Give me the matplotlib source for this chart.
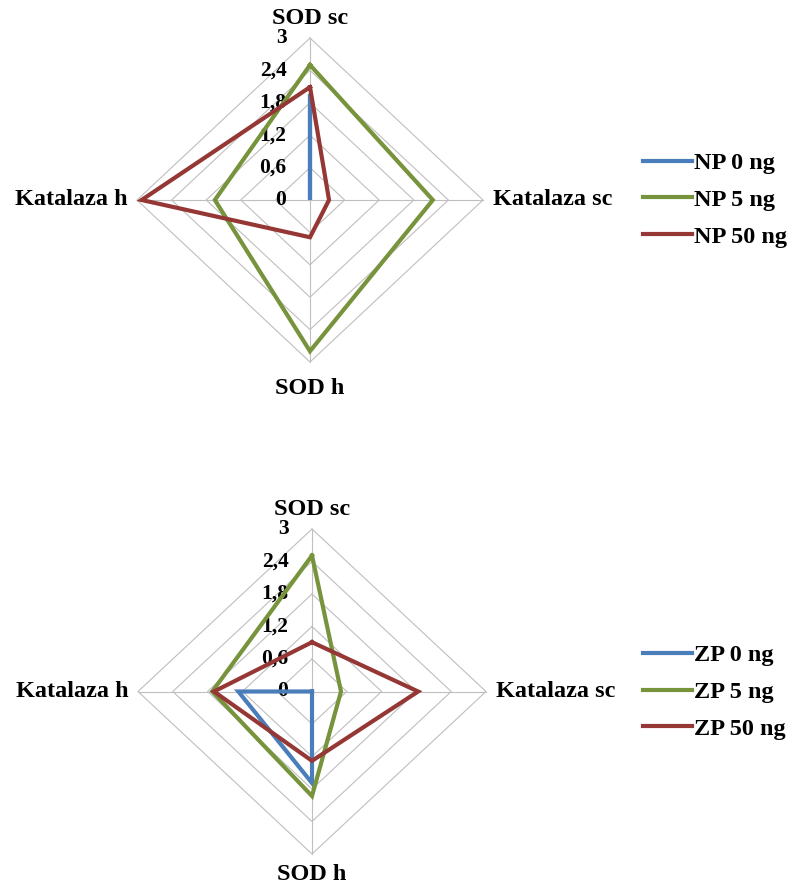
import numpy as np
import matplotlib
matplotlib.use('Agg')
import matplotlib.pyplot as plt

# data
categories = ['SOD sc', 'Katalaza sc', 'SOD h', 'Katalaza h']
ticks = [0, 0.6, 1.2, 1.8, 2.4, 3]
tick_labels = ['0', '0,6', '1,2', '1,8', '2,4', '3']

np_names = ['NP 0 ng', 'NP 5 ng', 'NP 50 ng']
np_0 = [1.92, 0, 0, 0]
np_5 = [2.50, 2.13, 2.80, 1.65]
np_50 = [2.09, 0.33, 0.69, 2.92]

zp_names = ['ZP 0 ng', 'ZP 5 ng', 'ZP 50 ng']
zp_0 = [0, 0, 1.69, 1.27]
zp_5 = [2.51, 0.50, 1.93, 1.72]
zp_50 = [0.91, 1.83, 1.28, 1.69]

colors = ['#4A7EBB', '#77933C', '#953735']
grid_color = '#BFBFBF'

plt.rcParams['font.family'] = ['Liberation Serif', 'DejaVu Serif']
plt.rcParams['font.weight'] = 'bold'

fig = plt.figure(figsize=(7.95, 8.88), dpi=100)

# kąty: zgodnie z ruchem wskazówek zegara od góry
angles = np.arange(len(categories)) * 2 * np.pi / len(categories)


def to_xy(vals):
    v = np.array(list(vals) + [vals[0]])
    a = np.append(angles, angles[0])
    return v * np.sin(a), v * np.cos(a)


def radar(rect, series, names, legend_y, bottom_off):
    ax = fig.add_axes(rect)
    ax.set_xlim(-3, 3)
    ax.set_ylim(-3, 3)
    ax.axis('off')

    # siatka (romby)
    for t in ticks[1:]:
        gx, gy = to_xy([t] * len(categories))
        ax.plot(gx, gy, color=grid_color, lw=0.8, zorder=1, clip_on=False)
    for a in angles:
        ax.plot([0, 3 * np.sin(a)], [0, 3 * np.cos(a)], color=grid_color,
                lw=0.8, zorder=1, clip_on=False)

    # etykiety osi wartości
    for t, lab in zip(ticks, tick_labels):
        ax.annotate(lab, xy=(0, t), xytext=(-17, 0), textcoords='offset points',
                    ha='right', va='center', fontsize=15.5, fontweight='bold',
                    zorder=2)

    # serie
    for vals, name, c in zip(series, names, colors):
        x, y = to_xy(vals)
        ax.plot(x, y, color=c, lw=3, label=name, zorder=3, clip_on=False,
                solid_joinstyle='miter')

    # kategorie
    offsets = [(0, 10, 'center', 'baseline'), (7, 0, 'left', 'center'),
               (0, bottom_off, 'center', 'baseline'), (-7, 0, 'right', 'center')]
    for a, cat, (dx, dy, ha, va) in zip(angles, categories, offsets):
        ax.annotate(cat, xy=(3 * np.sin(a), 3 * np.cos(a)), xytext=(dx, dy),
                    textcoords='offset points', ha=ha, va=va, fontsize=17.5,
                    fontweight='bold')

    ax.legend(loc='center left', bbox_to_anchor=(643 / 795, legend_y),
              bbox_transform=fig.transFigure, frameon=False, fontsize=17.5,
              handlelength=2.0, handletextpad=0.1, labelspacing=0.6,
              borderpad=0, borderaxespad=0)
    return ax


radar([137 / 795, 1 - 362 / 888, 346 / 795, 324 / 888],
      [np_0, np_5, np_50], np_names, 1 - 200 / 888, -23)
radar([138 / 795, 1 - 854 / 888, 348 / 795, 325 / 888],
      [zp_0, zp_5, zp_50], zp_names, 1 - 692 / 888, -19)

plt.savefig('out.png', dpi=100)
